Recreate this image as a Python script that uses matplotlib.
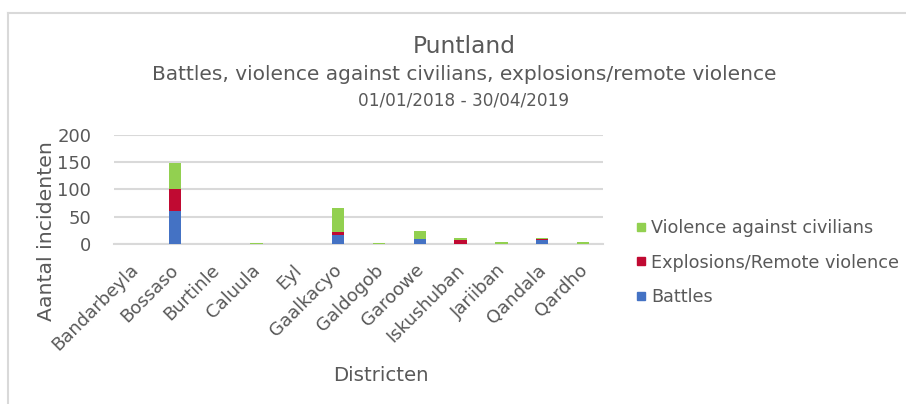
import matplotlib.pyplot as plt
import matplotlib.transforms as mtransforms
import numpy as np
from matplotlib.lines import Line2D

districts = ["Bandarbeyla", "Bossaso", "Burtinle", "Caluula", "Eyl", "Gaalkacyo",
             "Galdogob", "Garoowe", "Iskushuban", "Jariiban", "Qandala", "Qardho"]
battles = [0, 61, 0, 0, 0, 17, 0, 10, 1, 0, 7, 0]
explosions = [0, 39, 0, 0, 0, 6, 0, 0, 7, 0, 3, 0]
civilians = [0, 48, 0, 2, 0, 43, 2, 15, 4, 4, 1, 4]
yticks = [0, 50, 100, 150, 200]

grey = "#595959"
c_bat = "#4472C4"
c_exp = "#C00A32"
c_civ = "#92D050"

plt.rcParams['font.family'] = ['DejaVu Sans']

fig = plt.figure(figsize=(9.06, 4.04), dpi=100)
ax = fig.add_axes([0.1253, 0.3953, 0.5408, 0.2713])

x = np.arange(len(districts))
b = np.array(battles)
e = np.array(explosions)
c = np.array(civilians)
w = 0.3
ax.bar(x, b, w, color=c_bat, label="Battles", zorder=3)
ax.bar(x, e, w, bottom=b, color=c_exp, label="Explosions/Remote violence", zorder=3)
ax.bar(x, c, w, bottom=b + e, color=c_civ, label="Violence against civilians", zorder=3)

ax.set_xlim(-0.5, len(districts) - 0.5)
ax.set_ylim(0, 200)
ax.set_yticks(yticks)
ax.yaxis.grid(True, color="#D9D9D9", linewidth=1.5, zorder=0)
for s in ["top", "right", "left"]:
    ax.spines[s].set_visible(False)
ax.spines["bottom"].set_color("#D9D9D9")
ax.spines["bottom"].set_linewidth(1.5)
ax.tick_params(axis="both", length=0, labelsize=13, labelcolor=grey)
ax.tick_params(axis="y", pad=16)
ax.set_xticks(x)
ax.set_xticklabels(districts, rotation=45, ha="right", rotation_mode="anchor")
ax.tick_params(axis="x", pad=12)
# nudge rotated labels a little to the left
shift = mtransforms.ScaledTranslation(-5 / 100, 0, fig.dpi_scale_trans)
for lab in ax.get_xticklabels():
    lab.set_transform(lab.get_transform() + shift)

fig.text(0.051, 0.428, "Aantal incidenten", rotation=90, ha="center", va="center",
         fontsize=14.7, color=grey)
fig.text(0.42, 0.07, "Districten", ha="center", va="center", fontsize=14.2, color=grey)

fig.text(0.512, 0.885, "Puntland", ha="center", va="center", fontsize=16.8, color=grey)
fig.text(0.512, 0.815, "Battles, violence against civilians, explosions/remote violence",
         ha="center", va="center", fontsize=14.5, color=grey)
fig.text(0.512, 0.752, "01/01/2018 - 30/04/2019", ha="center", va="center",
         fontsize=12.2, color=grey)

handles = [Line2D([], [], marker="s", linestyle="none", markersize=6, color=col)
           for col in (c_civ, c_exp, c_bat)]
labels = ["Violence against civilians", "Explosions/Remote violence", "Battles"]
fig.legend(handles, labels, loc="center left", bbox_to_anchor=(0.68, 0.35),
           frameon=False, fontsize=12.7, labelcolor=grey, handletextpad=0.1,
           labelspacing=0.95, handlelength=1.0)

# chart frame (only left and top edges visible)
fig.add_artist(Line2D([0.0083, 0.0083], [0.0, 0.968], color="#D9D9D9", linewidth=1.5))
fig.add_artist(Line2D([0.0083, 1.0], [0.968, 0.968], color="#D9D9D9", linewidth=1.5))

fig.savefig("out.png", dpi=100)
